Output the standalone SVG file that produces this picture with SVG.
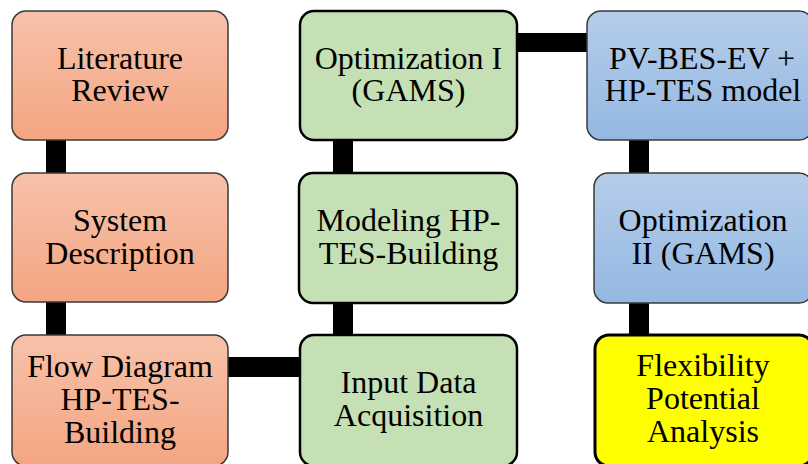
<svg xmlns="http://www.w3.org/2000/svg" width="808" height="464" viewBox="0 0 808 464">
  <defs>
    <linearGradient id="gradSalmon" x1="0" y1="0" x2="0" y2="1">
      <stop offset="0" stop-color="#F7C2AA"/>
      <stop offset="1" stop-color="#F4A582"/>
    </linearGradient>
    <linearGradient id="gradBlue" x1="0" y1="0" x2="0" y2="1">
      <stop offset="0" stop-color="#B5CDEA"/>
      <stop offset="1" stop-color="#94B8E2"/>
    </linearGradient>
    <style>
      .box { stroke-linejoin: round; }
      .salmon { fill: url(#gradSalmon); stroke: #3a3a3a; stroke-width: 1.5; }
      .green { fill: #C5E0B4; stroke: #000; stroke-width: 2.5; }
      .blue { fill: url(#gradBlue); stroke: #3a3a3a; stroke-width: 1.5; }
      .yellow { fill: #FFFF00; stroke: #000; stroke-width: 3; }
      .label { font-family: "Liberation Serif", "Times New Roman", serif; font-size: 32px; fill: #000; text-anchor: middle; }
      .link { fill: #000; }
    </style>
  </defs>

  <!-- thick black connectors, drawn beneath the boxes -->
  <g id="connectors">
    <rect class="link" x="46" y="135" width="20" height="42"/>
    <rect class="link" x="46" y="297" width="20" height="43"/>
    <rect class="link" x="222" y="357" width="82" height="20"/>
    <rect class="link" x="333" y="298" width="20" height="42"/>
    <rect class="link" x="333" y="135" width="20" height="42"/>
    <rect class="link" x="511" y="33" width="80" height="19"/>
    <rect class="link" x="629" y="135" width="20" height="42"/>
    <rect class="link" x="629" y="298" width="20" height="42"/>
  </g>

  <!-- left column -->
  <g id="literature-review">
    <rect class="box salmon" x="12" y="11" width="216" height="129" rx="14"/>
    <text class="label" x="120" y="69">Literature</text>
    <text class="label" x="120" y="101">Review</text>
  </g>
  <g id="system-description">
    <rect class="box salmon" x="12" y="173" width="216" height="129" rx="14"/>
    <text class="label" x="120" y="231">System</text>
    <text class="label" x="120" y="264">Description</text>
  </g>
  <g id="flow-diagram">
    <rect class="box salmon" x="12" y="335" width="216" height="131" rx="14"/>
    <text class="label" x="120" y="377">Flow Diagram</text>
    <text class="label" x="120" y="410">HP-TES-</text>
    <text class="label" x="120" y="443">Building</text>
  </g>

  <!-- middle column -->
  <g id="optimization-1">
    <rect class="box green" x="300" y="11" width="217" height="129" rx="14"/>
    <text class="label" x="408.5" y="69">Optimization I</text>
    <text class="label" x="408.5" y="101">(GAMS)</text>
  </g>
  <g id="modeling">
    <rect class="box green" x="299" y="173" width="218" height="130" rx="14"/>
    <text class="label" x="408.5" y="231">Modeling HP-</text>
    <text class="label" x="408.5" y="264">TES-Building</text>
  </g>
  <g id="input-data">
    <rect class="box green" x="300" y="335" width="217" height="131" rx="14"/>
    <text class="label" x="408.5" y="393">Input Data</text>
    <text class="label" x="408.5" y="426">Acquisition</text>
  </g>

  <!-- right column -->
  <g id="pv-bes-ev-model">
    <rect class="box blue" x="587" y="11" width="226" height="129" rx="14"/>
    <text class="label" x="702" y="69">PV-BES-EV +</text>
    <text class="label" x="703" y="101">HP-TES model</text>
  </g>
  <g id="optimization-2">
    <rect class="box blue" x="594" y="173" width="219" height="130" rx="14"/>
    <text class="label" x="703" y="231">Optimization</text>
    <text class="label" x="703" y="264">II (GAMS)</text>
  </g>
  <g id="flexibility-analysis">
    <rect class="box yellow" x="595" y="335" width="218" height="131" rx="14"/>
    <text class="label" x="703" y="376">Flexibility</text>
    <text class="label" x="703" y="409">Potential</text>
    <text class="label" x="703" y="442">Analysis</text>
  </g>
</svg>
